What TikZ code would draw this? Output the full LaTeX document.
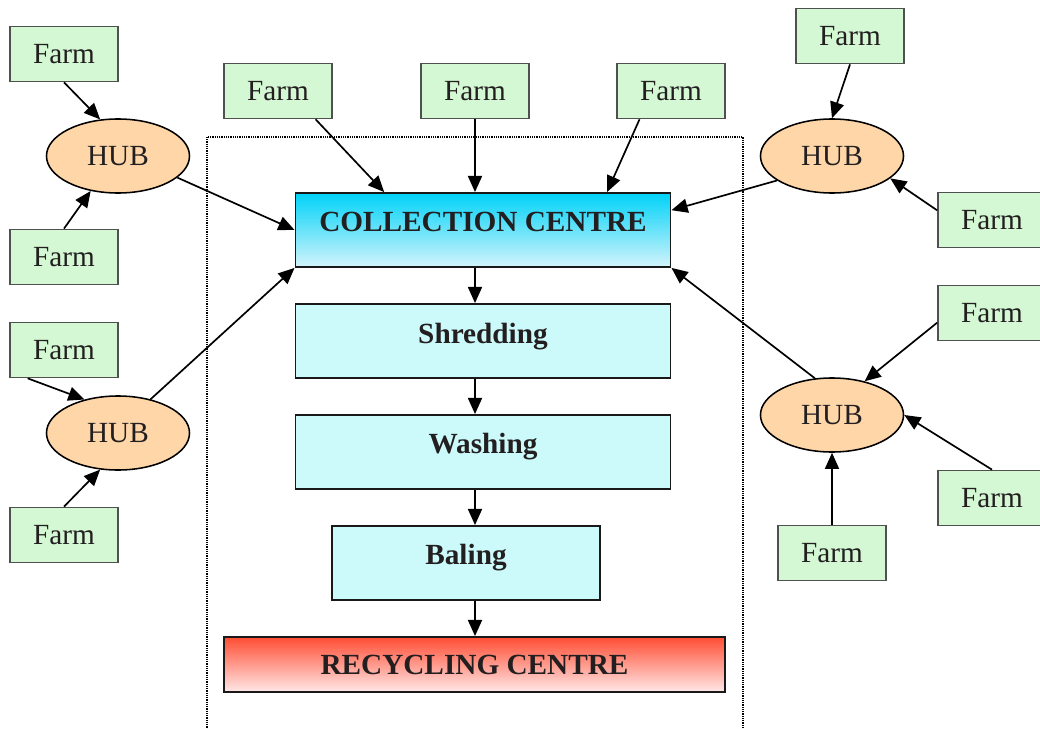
\documentclass[tikz,border=0pt]{standalone}
\usepackage{fontspec}
\setmainfont{Liberation Serif}
\usetikzlibrary{arrows.meta,shapes.geometric}
\definecolor{farmfill}{HTML}{D3F8D3}
\definecolor{farmdraw}{HTML}{505050}
\definecolor{hubfill}{HTML}{FFD6A8}
\definecolor{colltop}{HTML}{00D2F8}
\definecolor{collbot}{HTML}{D3F4FB}
\definecolor{procfill}{HTML}{CCFAFA}
\definecolor{rectop}{HTML}{FF4D33}
\definecolor{recbot}{HTML}{FFE8E8}
\definecolor{txt}{HTML}{231F20}
\tikzset{
  farm/.style={draw=farmdraw, fill=farmfill, line width=1.2pt, rectangle,
    minimum width=2.7cm, minimum height=1.375cm, inner sep=0pt,
    font=\fontsize{20.8}{24}\selectfont, text=txt},
  hub/.style={draw=black, fill=hubfill, line width=1.1pt, ellipse,
    minimum width=3.575cm, minimum height=1.85cm, inner sep=0pt,
    font=\fontsize{20.8}{24}\selectfont, text=txt},
  proc/.style={draw=black!90, line width=1.3pt, rectangle, inner sep=0pt,
    minimum height=1.85cm, font=\bfseries\fontsize{20.8}{24}\selectfont, text=txt},
  arr/.style={line width=1.2pt, -{Triangle[length=11.5pt,width=10pt]}},
  dotbox/.style={line width=0.8pt, dash pattern=on 0.8pt off 0.8pt}
}
\begin{document}
\begin{tikzpicture}[x=0.025cm,y=-0.025cm]
\useasboundingbox (0,0) rectangle (1040,729);
\draw[dotbox] (207,137) rectangle (743,745);

% central column
\node[proc, top color=colltop, bottom color=collbot, minimum width=9.375cm] (coll) at (483,230) {\raisebox{11.4pt}{COLLECTION CENTRE}};
\node[proc, fill=procfill, minimum width=9.375cm] (shred) at (483,341) {\raisebox{11.4pt}{Shredding}};
\node[proc, fill=procfill, minimum width=9.375cm] (wash) at (483,452) {\raisebox{12.5pt}{Washing}};
\node[proc, fill=procfill, minimum width=6.7cm] (bal) at (466,563) {\raisebox{12.5pt}{Baling}};
\node[proc, top color=rectop, bottom color=recbot, minimum width=12.525cm, minimum height=1.375cm] (rec) at (474.5,664.5) {RECYCLING CENTRE};

% hubs
\node[hub] (hubA) at (118,156) {HUB};
\node[hub] (hubB) at (118,433) {HUB};
\node[hub] (hubC) at (832,156) {HUB};
\node[hub] (hubD) at (832,415) {HUB};

% farms
\node[farm] (lf1) at (64,54) {Farm};
\node[farm] (lf2) at (64,257) {Farm};
\node[farm] (lf3) at (64,350) {Farm};
\node[farm] (lf4) at (64,535) {Farm};
\node[farm] (tf1) at (278,91) {Farm};
\node[farm] (tf2) at (475,91) {Farm};
\node[farm] (tf3) at (671,91) {Farm};
\node[farm] (rf1) at (850,36) {Farm};
\node[farm] (rf2) at (992,220) {Farm};
\node[farm] (rf3) at (992,313) {Farm};
\node[farm] (rf4) at (992,498) {Farm};
\node[farm] (rf5) at (832,553) {Farm};

% farm -> hub
\draw[arr] (lf1.south) -- (hubA.116);
\draw[arr] (lf2.north) -- (hubA.232);
\draw[arr] (lf3.218) -- (hubB.135);
\draw[arr] (lf4.north) -- (hubB.244);
\draw[arr] (rf1.south) -- (hubC.north);
\draw[arr] (rf2.170) -- (hubC.339);
\draw[arr] (rf3.190) -- (hubD.46);
\draw[arr] (rf4.north) -- (hubD.east);
\draw[arr] (rf5.north) -- (hubD.south);

% hub -> collection
\draw[arr] (hubA.340) -- (coll.west);
\draw[arr] (hubB.46) -- (coll.south west);
\draw[arr] (hubC.204) -- (coll.6);
\draw[arr] (hubD.115) -- (coll.south east);

% top farms -> collection
\draw[arr] (tf1.323) -- (coll.159.7);
\draw[arr] (tf2.south) -- (tf2.south |- coll.north);
\draw[arr] (tf3.222) -- (coll.17.3);

% process chain
\draw[arr] (tf2.south |- coll.south) -- (tf2.south |- shred.north);
\draw[arr] (tf2.south |- shred.south) -- (tf2.south |- wash.north);
\draw[arr] (tf2.south |- wash.south) -- (tf2.south |- bal.north);
\draw[arr] (tf2.south |- bal.south) -- (tf2.south |- rec.north);
\end{tikzpicture}
\end{document}
